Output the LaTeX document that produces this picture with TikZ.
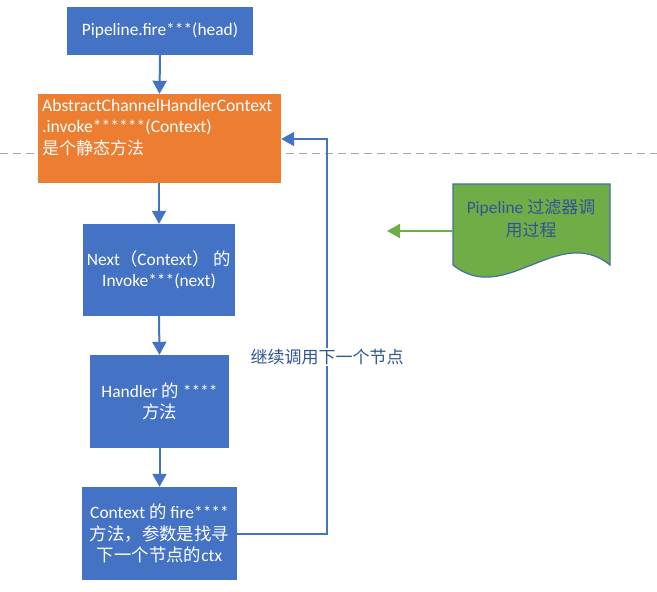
\documentclass[tikz,border=0pt]{standalone}
\usepackage{fontspec}
\setmainfont{Carlito}
\newfontfamily\cjk{Noto Sans CJK SC}
\usetikzlibrary{arrows.meta}
\definecolor{bblue}{HTML}{4472C4}
\definecolor{borange}{HTML}{ED7D31}
\definecolor{bgreen}{HTML}{70AD47}
\definecolor{gborder}{HTML}{41719C}
\definecolor{tblue}{HTML}{2F5597}
\definecolor{dgray}{HTML}{A6A6A6}
\tikzset{
  blbox/.style={draw=none, fill=bblue, text=white, inner sep=0pt, align=center,
    font=\fontsize{17.4}{21.5}\selectfont},
  orbox/.style={draw=none, fill=borange, inner sep=0pt},
  flow/.style={draw=bblue, line width=2pt, -{Triangle[width=14pt,length=13pt]}},
  gflow/.style={draw=bgreen, line width=2pt, -{Triangle[width=14pt,length=13pt]}},
}
\begin{document}
\begin{tikzpicture}[x=1pt,y=-1pt]
\useasboundingbox (0,0) rectangle (657,592);
\fill[white] (0,0) rectangle (657,592);
% dashed separator
\coordinate (dl) at (0,153);
\coordinate (dr) at (657,153);
\draw[dgray, line width=1pt, dash pattern=on 8pt off 5pt] (dl) -- (dr);
% boxes
\node[blbox, minimum width=186pt, minimum height=48pt] (b1) at (160,31) {Pipeline.fire***(head)};
\node[orbox, minimum width=243pt, minimum height=89pt] (b2) at (159.5,138.5) {};
\node[anchor=north west, text=white, inner sep=0pt, align=left,
  font=\fontsize{17.6}{21.5}\selectfont] (b2t) at (42,99)
  {AbstractChannelHandlerContext\\.invoke******(Context)\\{\cjk\fontsize{17}{21.5}\selectfont 是个静态方法}};
\node[blbox, minimum width=152pt, minimum height=92pt] (b3) at (159,270)
  {Next{\cjk （}Context{\cjk ） 的}\\Invoke***(next)};
\node[blbox, minimum width=139pt, minimum height=93pt] (b4) at (159.5,401.5)
  {Handler {\cjk 的} ****\\{\cjk 方法}};
\node[blbox, minimum width=155pt, minimum height=93pt] (b5) at (159.5,533.5)
  {Context {\cjk 的} fire****\\{\cjk 方法，参数是找寻}\\{\cjk 下一个节点的}ctx};
% flow arrows
\draw[flow] (b1.south) -- (b2.north);
\draw[flow] (b2.south -| b3.north) -- (b3.north);
\draw[flow] (b3.south) -- (b4.north);
\draw[flow] (b4.south) -- (b5.north);
% feedback
\coordinate (fb1) at (327,533.5);
\coordinate (fb2) at (327,139);
\draw[flow] (b5.east) -- (fb1) -- (fb2) -- (b2.east |- fb2);
\node[fill=white, text=tblue, inner sep=1pt, font=\cjk\fontsize{17}{21.5}\selectfont] (lbl) at (327,357) {继续调用下一个节点};
% document shape
\coordinate (dtl) at (453,184);
\coordinate (dtr) at (610,184);
\coordinate (dbr) at (610,265);
\coordinate (dbl) at (453,265);
\draw[fill=bgreen, draw=gborder, line width=1.2pt]
  (dtl) -- (dtr) -- (dbr) .. controls (558,223) and (505,307) .. (dbl) -- cycle;
\node[text=tblue, align=center, inner sep=0pt, font=\fontsize{17.4}{22.5}\selectfont] (doct) at (531,218.5)
  {Pipeline {\cjk\fontsize{17}{22.5}\selectfont 过滤器调}\\{\cjk\fontsize{17}{22.5}\selectfont 用过程}};
\coordinate (gend) at (387,231);
\draw[gflow] (453,231) -- (gend);
\end{tikzpicture}
\end{document}
